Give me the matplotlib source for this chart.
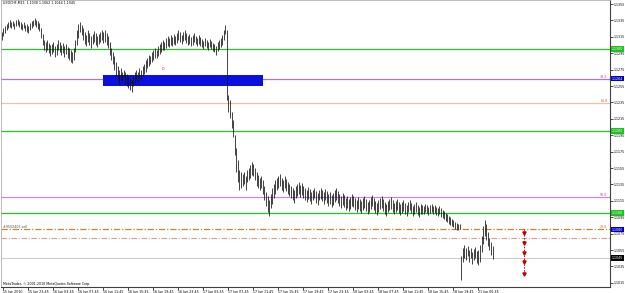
import numpy as np
import matplotlib
matplotlib.use("Agg")
import matplotlib.pyplot as plt
from matplotlib.patches import Rectangle

# USDCHF M15 bars, in pips above 1.1000
BASE = 1.1000
PIP = 0.0001
high_pips = [
    321, 326, 328, 331, 333, 336, 333, 334, 332, 336, 337, 334, 333, 331, 333, 330, 331, 328, 332, 334,
    336, 338, 336, 334, 332, 326, 319, 311, 309, 311, 308, 305, 306, 309, 304, 306, 311, 309, 305, 308,
    304, 306, 303, 301, 299, 297, 301, 311, 323, 331, 333, 330, 326, 321, 317, 323, 320, 316, 319, 322,
    320, 316, 319, 321, 323, 321, 323, 320, 316, 309, 301, 297, 292, 284, 279, 275, 277, 272, 275, 272,
    270, 267, 265, 262, 267, 272, 275, 272, 277, 275, 279, 282, 287, 289, 293, 292, 297, 299, 301, 299,
    304, 306, 309, 311, 309, 314, 316, 314, 317, 315, 319, 316, 320, 323, 321, 317, 321, 323, 320, 316,
    319, 315, 317, 320, 316, 314, 317, 315, 312, 310, 314, 311, 309, 312, 310, 308, 306, 304, 309, 311,
    314, 317, 323, 330, 323, 244, 238, 223, 214, 195, 179, 165, 153, 150, 148, 150, 145, 153, 155, 159,
    162, 160, 155, 150, 147, 143, 145, 140, 133, 126, 121, 116, 123, 131, 136, 140, 143, 145, 148, 143,
    140, 145, 142, 138, 136, 133, 131, 128, 133, 136, 138, 134, 137, 133, 131, 128, 132, 129, 126, 128,
    131, 127, 125, 128, 131, 128, 126, 129, 127, 123, 126, 122, 125, 128, 131, 127, 123, 121, 125, 122,
    118, 121, 117, 120, 123, 121, 118, 116, 120, 117, 115, 118, 121, 117, 114, 116, 120, 122, 118, 115,
    112, 116, 118, 121, 117, 114, 111, 115, 117, 120, 116, 112, 115, 117, 114, 111, 114, 116, 112, 110,
    114, 116, 112, 109, 111, 114, 110, 107, 111, 110, 109, 111, 110, 107, 110, 111, 109, 110, 107, 106,
    109, 106, 104, 103, 100, 99, 96, 95, 93, 92, 89, 88, 87, 87, 48, 57, 61, 57, 60, 55,
    57, 53, 56, 59, 54, 55, 61, 72, 84, 92, 87, 77, 70, 65, 60,
]
low_pips = [
    311, 316, 320, 323, 326, 327, 326, 328, 325, 328, 330, 327, 325, 323, 326, 322, 321, 320, 323, 326,
    328, 330, 327, 325, 322, 314, 305, 299, 297, 299, 295, 292, 294, 297, 290, 293, 299, 297, 293, 295,
    290, 294, 289, 287, 284, 283, 287, 297, 305, 314, 321, 317, 311, 306, 304, 309, 305, 301, 306, 309,
    305, 303, 306, 309, 311, 308, 309, 305, 301, 293, 287, 282, 275, 267, 262, 258, 262, 260, 265, 258,
    255, 253, 250, 248, 255, 258, 262, 260, 265, 262, 267, 270, 272, 277, 279, 282, 284, 287, 289, 289,
    292, 294, 297, 299, 299, 301, 304, 303, 305, 304, 306, 305, 308, 311, 309, 306, 310, 311, 308, 305,
    306, 304, 305, 309, 306, 304, 306, 304, 303, 300, 304, 301, 299, 303, 300, 298, 297, 293, 298, 300,
    303, 305, 311, 319, 238, 223, 216, 204, 193, 171, 150, 138, 128, 131, 133, 136, 128, 138, 140, 143,
    147, 145, 140, 133, 131, 128, 131, 123, 116, 109, 101, 96, 106, 111, 118, 123, 128, 131, 133, 128,
    126, 131, 127, 123, 121, 118, 116, 112, 118, 121, 123, 120, 122, 118, 116, 114, 117, 115, 111, 116,
    118, 112, 110, 116, 117, 115, 111, 116, 112, 109, 111, 107, 110, 114, 116, 112, 109, 106, 110, 107,
    104, 106, 103, 105, 109, 107, 104, 101, 105, 103, 100, 104, 106, 103, 99, 101, 105, 109, 104, 100,
    98, 101, 105, 106, 103, 99, 96, 101, 104, 105, 101, 99, 101, 104, 100, 98, 100, 103, 99, 96,
    101, 104, 100, 96, 99, 101, 98, 95, 99, 99, 99, 101, 100, 98, 100, 101, 99, 100, 98, 96,
    99, 95, 94, 93, 90, 89, 87, 86, 84, 83, 81, 79, 79, 81, 18, 40, 45, 43, 48, 40,
    45, 38, 43, 45, 39, 37, 40, 53, 62, 72, 67, 60, 55, 49, 44,
]

# horizontal objects
green_levels = [1.1300, 1.1200, 1.1100]
violet_levels = [1.1264, 1.1120]
tan_level = 1.1234
order_level = 1.1081
order_level2 = 1.1070
bid_level = 1.1045
fibo_texts = [(1.1264, "38.2", "#b040c0"), (1.1234, "61.8", "#c06040"),
              (1.1120, "50.0", "#b040c0"), (1.1081, "23.6", "#c06040")]
zone_start, zone_end = 65, 167
zone_low, zone_high = 1.1255, 1.1268
arrow_bar = 334
arrow_levels = [1.1076, 1.1064, 1.1051, 1.1040, 1.1026]

axis_labels = [(1.1300, "1.1300", "#20c020", "white"), (1.1264, "1.1264", "#0000c0", "white"),
               (1.1200, "1.1200", "#20c020", "white"), (1.1100, "1.1100", "#20c020", "white"),
               (1.1080, "1.1080", "#0000c0", "white"), (1.1045, "1.1045", "black", "white")]

price_ticks = [1.1355, 1.1335, 1.1315, 1.1295, 1.1275, 1.1255, 1.1235, 1.1215, 1.1195,
               1.1175, 1.1155, 1.1135, 1.1115, 1.1095, 1.1075, 1.1055, 1.1035, 1.1015]
time_labels = ["15 Jun 2010", "15 Jun 23:45", "16 Jun 03:45", "16 Jun 07:45", "16 Jun 11:45",
               "16 Jun 15:45", "16 Jun 19:45", "16 Jun 23:45", "17 Jun 03:45", "17 Jun 07:45",
               "17 Jun 11:45", "17 Jun 15:45", "17 Jun 19:45", "17 Jun 23:45", "18 Jun 03:45",
               "18 Jun 07:45", "18 Jun 11:45", "18 Jun 15:45", "18 Jun 19:45", "21 Jun 00:45"]

highs = BASE + np.array(high_pips) * PIP
lows = BASE + np.array(low_pips) * PIP
idx = np.arange(len(highs))

fs = 2.3
fig = plt.figure(figsize=(6.25, 2.93), dpi=100)
ax = fig.add_axes([0.0016, 0.0205, 0.9744, 0.9795])
ax.set_xlim(-0.6, 389.2)
ax.set_ylim(1.10099, 1.1360)

# levels
for lv in green_levels:
    ax.axhline(lv, color="#1ec81e", lw=0.9, zorder=1)
ax.axhline(violet_levels[0], color="#b070e0", lw=0.9, zorder=1)
ax.axhline(violet_levels[1], color="#c888dc", lw=0.9, zorder=1)
ax.axhline(tan_level, color="#eac4a4", lw=0.9, zorder=1)
ax.axhline(order_level, color="#d08030", lw=0.9, ls=(0, (5, 1.5, 1, 1.5)), zorder=1)
ax.axhline(order_level2, color="#d8a090", lw=0.8, ls=(0, (5, 1.5, 1, 1.5)), zorder=1)
ax.axhline(bid_level, color="#c8c8c8", lw=0.7, zorder=1)

ax.add_patch(Rectangle((zone_start, zone_low), zone_end - zone_start, zone_high - zone_low,
                       facecolor="#0a10e0", edgecolor="none", zorder=2))

# bars
ax.vlines(idx, lows, highs, color="#101010", lw=0.55, zorder=3)

# red arrows
ax.vlines(arrow_bar, arrow_levels[-1], order_level, color="#c00000", lw=0.7, ls=(0, (1.5, 1.5)), zorder=4)
ax.plot([arrow_bar] * len(arrow_levels), arrow_levels, "v", color="#c00000", ms=2.3, zorder=4)

for lv, txt, c in fibo_texts:
    ax.text(0.996, lv, txt, color=c, fontsize=fs, ha="right", va="bottom",
            transform=ax.get_yaxis_transform())
ax.text(103, 1.1276, "0", color="#d03030", fontsize=fs + 0.8, ha="center", va="center")
ax.text(0.004, order_level, "#9502403 sell", color="#505050", fontsize=fs, ha="left", va="bottom",
        transform=ax.get_yaxis_transform())
ax.text(0.004, 0.995, "USDCHF,M15  1.1038 1.1062 1.1044 1.1045", fontsize=fs, ha="left", va="top",
        transform=ax.transAxes)
ax.text(0.004, 0.005, "MetaTrader, \u00a9 2001-2010 MetaQuotes Software Corp.", fontsize=fs,
        ha="left", va="bottom", transform=ax.transAxes)

# axes styling
ax.yaxis.tick_right()
ax.set_yticks(price_ticks)
ax.set_yticklabels([f"{p:.4f}" for p in price_ticks])
ax.tick_params(axis="y", length=2, width=0.5, pad=1, labelsize=fs)
ax.set_xticks(np.arange(len(time_labels)) * 16 + 1)
ax.set_xticklabels(time_labels, ha="left")
ax.tick_params(axis="x", length=2, width=0.5, pad=0.5, labelsize=fs)
for s in ["right", "bottom"]:
    ax.spines[s].set_color("#404040")
    ax.spines[s].set_linewidth(0.8)
for s in ["top", "left"]:
    ax.spines[s].set_color("#b0b0b0")
    ax.spines[s].set_linewidth(0.6)

for lv, txt, bg, fg in axis_labels:
    ax.text(1.003, lv, txt, color=fg, fontsize=fs, ha="left", va="center",
            transform=ax.get_yaxis_transform(), clip_on=False,
            bbox=dict(boxstyle="square,pad=0.25", fc=bg, ec="none"))

fig.savefig("out.png", dpi=100)
